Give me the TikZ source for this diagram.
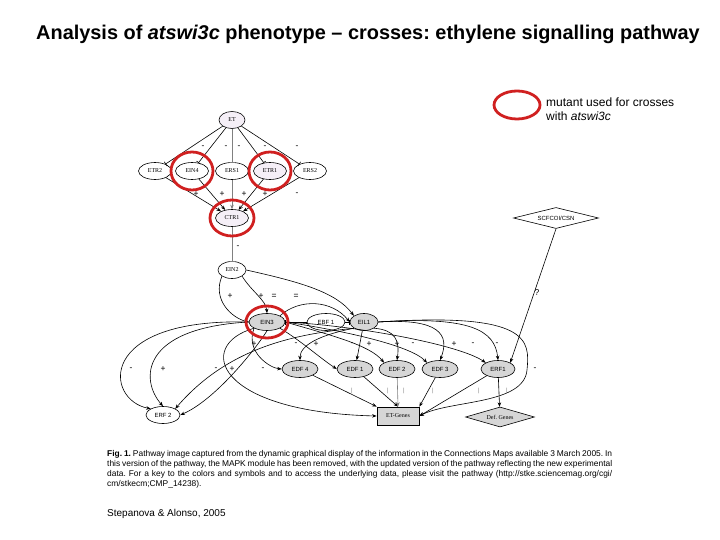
\documentclass[tikz,border=0pt]{standalone}
\usepackage{fontspec}
\setmainfont{Liberation Sans}
\newfontfamily\genefont{Liberation Serif}
\usepackage{tikz}
\usetikzlibrary{arrows.meta,positioning,shapes.geometric}
\definecolor{ringred}{RGB}{208,32,32}
\definecolor{genegray}{RGB}{214,214,214}
\definecolor{genepink}{RGB}{245,239,247}
\tikzset{
  gene/.style={ellipse, draw, line width=0.6pt, fill=white, minimum width=33pt,
               minimum height=17pt, inner sep=0pt,
               font=\genefont\fontsize{6}{7}\selectfont},
  pkgene/.style={gene, fill=genepink},
  grgene/.style={gene, fill=genegray, font=\fontsize{6}{7}\selectfont},
  act/.style={-{Stealth[length=4.5pt,width=3.5pt]}, line width=0.6pt},
  inh/.style={-{Bar[width=5pt]}, line width=0.6pt},
  mutring/.style={draw=ringred, line width=2.8pt},
  sgn/.style={font=\fontsize{8.5}{8.5}\selectfont, inner sep=0pt}
}
\frenchspacing
\begin{document}
\begin{tikzpicture}[x=1pt, y=-1pt]
    \useasboundingbox (0,0) rectangle (720,540);

    % Title
    \node[font=\bfseries\fontsize{19.9}{22}\selectfont] (title) at (368,34)
      {Analysis of \textit{atswi3c} phenotype \textendash{} crosses: ethylene signalling pathway};

    % Legend
    \node[ellipse, draw=ringred, line width=2.8pt, minimum width=46pt,
          minimum height=28pt] (legring) at (517,105) {};
    \node[anchor=north west, align=left, inner sep=0pt,
          font=\fontsize{12}{14}\selectfont] (legtxt) at (546,98)
      {mutant used for crosses\\with \textit{atswi3c}};

    % Receptor module
    \node[pkgene, minimum width=26pt] (et) at (232,120) {ET};
    \node[gene] (etr2) at (155,171) {ETR2};
    \node[gene] (ein4) at (192,171) {EIN4};
    \node[gene] (ers1) at (232,171) {ERS1};
    \node[pkgene] (etr1) at (270,171) {ETR1};
    \node[gene] (ers2) at (310,171) {ERS2};
    \node[pkgene] (ctr1) at (232,218) {CTR1};
    \node[gene, minimum width=28pt] (ein2) at (232,270) {EIN2};

    % Transcription module
    \node[grgene, minimum width=36pt] (ein3) at (267,322) {EIN3};
    \node[gene, minimum width=38pt, font=\fontsize{6}{7}\selectfont] (ebf1) at (326,322) {EBF 1};
    \node[grgene, minimum width=28pt] (eil1) at (364,322) {EIL1};
    \node[grgene, minimum width=36pt] (edf4) at (300,369) {EDF 4};
    \node[grgene, minimum width=36pt] (edf1) at (355,369) {EDF 1};
    \node[grgene, minimum width=36pt] (edf2) at (397,369) {EDF 2};
    \node[grgene, minimum width=36pt] (edf3) at (440,369) {EDF 3};
    \node[grgene, minimum width=34pt] (erf1) at (498,369) {ERF1};
    \node[gene, minimum width=34pt, font=\fontsize{6}{7}\selectfont] (erf2) at (163,415) {ERF 2};
    \node[draw, fill=genegray, line width=0.8pt, minimum width=42pt, minimum height=18pt,
          inner sep=0pt, font=\genefont\fontsize{6}{7}\selectfont] (etgenes) at (398,416) {ET-Genes};
    \node[diamond, aspect=4, draw, fill=genegray, line width=0.6pt, inner sep=0pt,
          minimum width=69pt, minimum height=20pt,
          font=\genefont\fontsize{6}{7}\selectfont] (defgenes) at (500,417) {Def. Genes};
    \node[diamond, aspect=4.5, draw, fill=white, line width=0.6pt, inner sep=0pt,
          minimum width=85pt, minimum height=21pt,
          font=\fontsize{6}{7}\selectfont] (scf) at (556,218) {SCFCOI/CSN};

    % ET on receptors
    \draw[inh] (et) -- (etr2);
    \draw[inh] (et) -- (ein4);
    \draw[inh, gray] (et) -- (ers1);
    \draw[inh] (et) -- (etr1);
    \draw[inh] (et) -- (ers2);

    % receptors on CTR1
    \draw[act] (etr2) -- (ctr1);
    \draw[act] (ein4) -- (ctr1);
    \draw[act, gray] (ers1) -- (ctr1);
    \draw[act] (etr1) -- (ctr1);
    \draw[act] (ers2) -- (ctr1);
    \draw[inh, gray] (ctr1) -- (ein2);

    % EIN2 to EIN3 / EIL1
    \draw[act] (ein2.south west) .. controls (212,300) and (232,318) .. (ein3.west);
    \draw[act] (ein2.south east) .. controls (252,292) and (266,300) .. (ein3.north);
    \draw[act] (ein2.east) .. controls (300,282) and (336,292) .. (eil1.north west);
    \draw[act] (ein3.north east) .. controls (300,298) and (332,300) .. (eil1.west);
    \draw[inh] (ebf1) -- (ein3);
    \draw[inh] (ebf1) -- (eil1);

    % to ERF 2
    \draw[act] (ein3.west) .. controls (95,318) and (105,400) .. (erf2.north west);
    \draw[act] (ein3.west) .. controls (140,328) and (140,380) .. (erf2.north);
    \draw[act] (ein3.south) .. controls (255,350) and (215,400) .. (erf2.east);
    \draw[act] (eil1.south west) .. controls (300,334) and (230,345) .. (erf2.north east);

    % to ET-Genes along the bottom
    \draw[act] (ein3.south west) .. controls (195,345) and (215,412) .. (etgenes.west);

    % to EDF / ERF1
    \draw[act] (ein3.south west) .. controls (245,352) and (270,368) .. (edf4.west);
    \draw[act] (eil1.south west) .. controls (320,335) and (300,345) .. (edf4.north);
    \draw[act] (ein3.south east) .. controls (300,340) and (320,358) .. (edf1.west);
    \draw[act] (eil1) -- (edf1);
    \draw[act] (ein3.east) .. controls (330,335) and (370,345) .. (edf2.north west);
    \draw[act] (eil1.south east) .. controls (395,330) and (400,340) .. (edf2.north);
    \draw[act] (ein3.east) .. controls (340,330) and (410,345) .. (edf3.north west);
    \draw[act] (eil1.east) .. controls (440,318) and (450,335) .. (edf3.north);
    \draw[act] (ein3.east) .. controls (360,326) and (460,345) .. (erf1.north west);
    \draw[act] (eil1.east) .. controls (470,316) and (495,330) .. (erf1.north);
    \draw[act] (eil1.east) .. controls (530,312) and (530,340) .. (527,370)
                           .. controls (524,405) and (450,400) .. (etgenes.east);
    \draw[act] (scf.south) -- (erf1.north east);

    % to target genes
    \draw[act] (edf4) -- (etgenes.north west);
    \draw[act] (edf1) -- (etgenes.north);
    \draw[act, gray] (edf2) -- (etgenes.north);
    \draw[act] (edf3) -- (etgenes.north east);
    \draw[act] (erf1) -- (etgenes.east);
    \draw[act] (erf1) -- (defgenes);

    % sign labels
    \foreach \x/\y/\s [count=\i] in {203/147/-, 226/147/-, 239/147/-, 265/147/-, 297/147/-,
        196/194/+, 222/194/+, 244/194/+, 265/194/+, 297/194/-, 238/247/-,
        230/296/+, 261/296/+, 274/296/=, 296/296/=,
        254/344/+, 296/344/-, 316/344/+, 352/344/-, 369/344/+, 397/344/+,
        413/344/-, 454/344/+, 473/344/-, 497/344/-,
        131/369/-, 163/369/+, 216/369/-, 232/369/+, 263/369/-, 535/369/-, 537/293/?}
      \node[sgn] (sg\i) at (\x,\y) {\s};
    \foreach \x [count=\i] in {352,388,404,433,479,507}
      \node[sgn, gray, font=\fontsize{6}{6}\selectfont] (tk\i) at (\x,391) {|};

    % mutants used for crosses
    \draw[mutring] (ein4) ellipse [x radius=21pt, y radius=19pt];
    \draw[mutring] (etr1) ellipse [x radius=21pt, y radius=19pt];
    \draw[mutring] (ctr1) ellipse [x radius=22pt, y radius=18pt];
    \draw[mutring] (ein3) ellipse [x radius=21pt, y radius=16pt];

    % Caption
    \node[anchor=north west, align=left, inner sep=0pt,
          font=\fontsize{8.4}{10}\selectfont] (caption) at (107,450) {%
      \makebox[505pt][s]{\textbf{Fig. 1.} Pathway image captured from the dynamic graphical display of the information in the Connections Maps available 3 March 2005. In}\\
      \makebox[505pt][s]{this version of the pathway, the MAPK module has been removed, with the updated version of the pathway reflecting the new experimental}\\
      \makebox[505pt][s]{data. For a key to the colors and symbols and to access the underlying data, please visit the pathway (http://stke.sciencemag.org/cgi/}\\
      cm/stkecm;CMP\_14238).};
    \node[anchor=west, inner sep=0pt, font=\fontsize{10}{12}\selectfont] (credit) at (107,514)
      {Stepanova \& Alonso, 2005};
\end{tikzpicture}
\end{document}
